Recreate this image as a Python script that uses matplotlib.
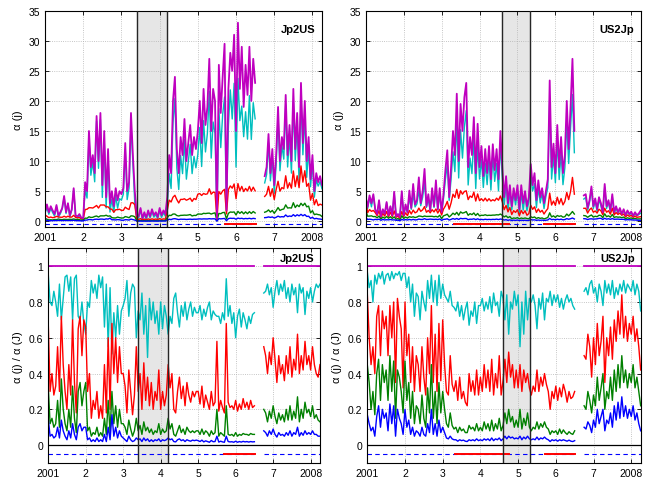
import numpy as np
import matplotlib.pyplot as plt

plt.rcParams['font.family'] = ['Liberation Sans', 'DejaVu Sans']

# sampling times in years; no data between mid 2006 and autumn 2006
t_a = np.round(np.arange(2001.0, 2006.501, 0.05), 2)
t_b = np.round(np.arange(2006.75, 2008.251, 0.05), 2)

# ---------------- Jp2US ----------------
jp_total_a = [1.5, 2.8, 1.5, 2.5, 1.8, 1.2, 2.7, 1.0, 1.5, 2.2, 4.2, 1.5, 3.0, 1.0, 2.0, 5.5, 1.0, 0.8, 1.2, 0.6,
              0.5, 6.5, 5.0, 15.0, 9.0, 11.0, 8.0, 17.5, 10.0, 18.0, 6.0, 15.0, 4.0, 12.0, 3.0, 5.0, 2.5, 5.5, 3.5, 5.0,
              4.5, 5.5, 13.0, 5.0, 6.5, 18.0, 11.0, 5.0,
              1.0, 0.8, 2.2, 0.5, 1.5, 0.6, 1.8, 0.8, 2.0, 1.0, 1.5, 0.7, 2.2, 1.0, 1.8, 1.2,
              4.0, 11.0, 8.0, 20.0, 24.0, 12.0, 8.0, 14.0, 11.0, 17.0, 10.0, 13.0, 16.0, 11.0, 14.0, 12.0,
              15.0, 20.0, 13.0, 22.0, 16.0, 19.0, 27.0, 15.0, 22.0, 20.0,
              0.4, 26.0, 18.0, 24.0, 29.5, 1.8,
              22.0, 28.0, 25.0, 31.0, 15.0, 33.0, 22.0, 29.0, 19.0, 26.0, 21.0, 29.0, 20.0, 27.0, 23.0]
jp_total_b = [7.5, 9.0, 14.5, 8.0, 12.0, 6.0, 11.0, 19.0, 10.0, 14.0, 12.0, 21.0, 11.0, 16.0, 10.0, 22.0,
              12.0, 18.0, 9.0, 23.0, 13.0, 20.0, 10.0, 14.0, 7.0, 11.0, 5.0, 8.0, 6.5, 7.5, 6.0]

jp_cyan_a = [0.96, 0.80, 0.78, 0.86, 0.80, 0.72, 0.90, 0.70, 0.82, 0.94, 0.95, 0.86, 0.94, 0.70, 0.93, 0.95, 0.72, 0.70, 0.80, 0.68,
             0.62, 0.80, 0.77, 0.92, 0.85, 0.90, 0.82, 0.95, 0.88, 0.94, 0.66, 0.90, 0.55, 0.88, 0.51, 0.74, 0.60, 0.78, 0.62, 0.75,
             0.78, 0.82, 0.92, 0.72, 0.85, 0.90, 0.88, 0.60,
             0.75, 0.70, 0.85, 0.62, 0.78, 0.49, 0.82, 0.70, 0.80, 0.68, 0.75, 0.62, 0.80, 0.65, 0.78, 0.72,
             0.62, 0.72, 0.68, 0.82, 0.85, 0.74, 0.66, 0.78, 0.72, 0.80, 0.70, 0.76, 0.80, 0.72, 0.77, 0.74,
             0.74, 0.78, 0.70, 0.76, 0.72, 0.77, 0.80, 0.70, 0.75, 0.73,
             0.72, 0.72, 0.68, 0.74, 0.70, 0.93,
             0.72, 0.78, 0.68, 0.74, 0.60, 0.72, 0.76, 0.66, 0.74, 0.70, 0.65, 0.72, 0.68, 0.73, 0.74]
jp_cyan_b = [0.85, 0.86, 0.90, 0.84, 0.88, 0.77, 0.86, 0.92, 0.84, 0.90, 0.86, 0.92, 0.82, 0.88, 0.80, 0.90,
             0.84, 0.88, 0.74, 0.90, 0.85, 0.88, 0.73, 0.86, 0.82, 0.88, 0.80, 0.86, 0.90, 0.88, 0.90]

jp_red_a = [0.69, 0.30, 0.40, 0.28, 0.33, 0.55, 0.30, 0.72, 0.45, 0.30, 0.20, 0.45, 0.28, 0.70, 0.35, 0.18, 0.65, 0.72, 0.50, 0.70,
            0.66, 0.30, 0.40, 0.15, 0.25, 0.20, 0.30, 0.15, 0.22, 0.15, 0.45, 0.18, 0.60, 0.20, 0.68, 0.40, 0.60, 0.35, 0.55, 0.40,
            0.40, 0.33, 0.18, 0.42, 0.30, 0.17, 0.28, 0.55,
            0.30, 0.40, 0.20, 0.46, 0.25, 0.38, 0.22, 0.35, 0.20, 0.30, 0.25, 0.42, 0.20, 0.30, 0.22, 0.28,
            0.45, 0.32, 0.40, 0.20, 0.18, 0.30, 0.38, 0.26, 0.33, 0.22, 0.35, 0.28, 0.24, 0.30, 0.27, 0.30,
            0.30, 0.23, 0.33, 0.21, 0.28, 0.24, 0.20, 0.30, 0.22, 0.24,
            0.58, 0.19, 0.25, 0.21, 0.18, 0.68,
            0.24, 0.21, 0.22, 0.20, 0.25, 0.19, 0.23, 0.20, 0.26, 0.21, 0.24, 0.20, 0.25, 0.21, 0.22]
jp_red_b = [0.55, 0.50, 0.40, 0.52, 0.45, 0.60, 0.48, 0.35, 0.50, 0.40, 0.45, 0.36, 0.50, 0.40, 0.55, 0.38,
            0.48, 0.42, 0.62, 0.40, 0.50, 0.42, 0.58, 0.45, 0.50, 0.42, 0.55, 0.45, 0.40, 0.38, 0.45]

jp_green_a = [0.33, 0.12, 0.15, 0.10, 0.12, 0.25, 0.10, 0.37, 0.20, 0.12, 0.08, 0.20, 0.10, 0.33, 0.15, 0.07, 0.30, 0.35, 0.22, 0.30,
              0.35, 0.08, 0.10, 0.05, 0.07, 0.06, 0.10, 0.05, 0.07, 0.05, 0.15, 0.06, 0.25, 0.07, 0.30, 0.12, 0.22, 0.10, 0.20, 0.12,
              0.12, 0.10, 0.06, 0.14, 0.09, 0.05, 0.08, 0.15,
              0.08, 0.11, 0.06, 0.13, 0.08, 0.10, 0.07, 0.09, 0.06, 0.08, 0.07, 0.12, 0.06, 0.09, 0.07, 0.08,
              0.15, 0.09, 0.12, 0.06, 0.05, 0.08, 0.11, 0.07, 0.09, 0.06, 0.10, 0.08, 0.07, 0.08, 0.07, 0.08,
              0.08, 0.06, 0.09, 0.06, 0.08, 0.07, 0.05, 0.08, 0.06, 0.07,
              0.20, 0.05, 0.07, 0.06, 0.05, 0.22,
              0.06, 0.055, 0.06, 0.05, 0.07, 0.05, 0.06, 0.055, 0.065, 0.06, 0.06, 0.055, 0.065, 0.06, 0.06]
jp_green_b = [0.20, 0.18, 0.13, 0.19, 0.15, 0.22, 0.16, 0.12, 0.18, 0.14, 0.17, 0.13, 0.20, 0.14, 0.22, 0.14,
              0.19, 0.15, 0.27, 0.13, 0.20, 0.15, 0.24, 0.18, 0.20, 0.16, 0.22, 0.15, 0.17, 0.14, 0.13]

jp_blue_a = [0.15, 0.05, 0.06, 0.04, 0.05, 0.10, 0.04, 0.14, 0.08, 0.05, 0.03, 0.08, 0.04, 0.12, 0.06, 0.03, 0.10, 0.12, 0.08, 0.10,
             0.10, 0.03, 0.04, 0.02, 0.03, 0.02, 0.04, 0.02, 0.03, 0.02, 0.06, 0.02, 0.10, 0.03, 0.17, 0.05, 0.10, 0.04, 0.08, 0.05,
             0.04, 0.03, 0.02, 0.05, 0.03, 0.02, 0.025, 0.04,
             0.03, 0.035, 0.02, 0.04, 0.025, 0.035, 0.02, 0.03, 0.02, 0.03, 0.025, 0.035, 0.02, 0.03, 0.025, 0.03,
             0.04, 0.03, 0.035, 0.02, 0.018, 0.03, 0.035, 0.025, 0.03, 0.02, 0.03, 0.025, 0.022, 0.028, 0.025, 0.028,
             0.025, 0.02, 0.028, 0.018, 0.024, 0.02, 0.016, 0.026, 0.019, 0.02,
             0.05, 0.017, 0.022, 0.018, 0.016, 0.05,
             0.02, 0.018, 0.019, 0.016, 0.022, 0.016, 0.02, 0.017, 0.021, 0.018, 0.02, 0.017, 0.02, 0.018, 0.019]
jp_blue_b = [0.08, 0.07, 0.05, 0.08, 0.06, 0.09, 0.06, 0.045, 0.07, 0.055, 0.06, 0.05, 0.07, 0.055, 0.08, 0.05,
             0.07, 0.06, 0.10, 0.05, 0.07, 0.055, 0.08, 0.06, 0.07, 0.06, 0.08, 0.06, 0.06, 0.05, 0.05]

# ---------------- US2Jp ----------------
us_total_a = [4.0, 2.4, 4.3, 3.0, 4.5, 2.0, 1.2, 3.5, 0.8, 2.0, 1.2, 3.2, 1.0, 2.5, 1.0, 4.9, 0.8, 1.2, 0.7, 5.0,
              1.0, 2.8, 1.5, 5.1, 2.2, 6.2, 2.8, 3.5, 7.3, 3.0, 5.0, 8.7, 2.5, 4.5, 1.8, 5.5, 2.5, 6.8, 2.0, 5.5,
              1.5, 4.5, 8.5, 11.8, 4.0, 9.0, 15.0, 11.0, 21.2, 10.0, 19.5, 15.0, 20.6, 23.0, 9.0, 14.0, 11.0, 17.3, 8.0, 16.2,
              9.0, 12.5, 7.5, 12.0, 8.0, 12.5, 7.0, 12.8, 8.5, 12.0, 7.0, 15.0, 9.0, 4.0, 7.5, 3.0, 6.0, 2.5, 5.5, 3.5,
              6.0, 2.0, 6.0, 3.0, 5.0, 2.5, 4.0, 9.5, 6.0, 8.0, 3.5, 6.8, 4.0, 5.5, 3.0, 5.0, 7.0, 23.4, 9.0, 12.9,
              8.0, 16.0, 9.0, 14.0, 8.0, 11.0, 20.0, 12.0, 19.0, 27.0, 15.0]
us_total_b = [4.3, 4.5, 2.2, 3.5, 5.8, 2.5, 3.8, 2.0, 4.0, 3.0, 1.5, 6.2, 2.5, 3.5, 1.8, 4.5,
              1.5, 2.5, 1.5, 2.2, 1.2, 2.0, 1.0, 1.8, 1.2, 1.6, 0.9, 1.5, 1.0, 1.3, 1.8]

us_cyan_a = [0.97, 0.88, 0.92, 0.80, 0.95, 0.90, 0.96, 0.93, 0.97, 0.90, 0.95, 0.96, 0.92, 0.97, 0.93, 0.96, 0.95, 0.97, 0.92, 0.96,
             0.96, 0.88, 0.94, 0.80, 0.90, 0.72, 0.85, 0.83, 0.70, 0.86, 0.80, 0.75, 0.92, 0.82, 0.95, 0.80, 0.92, 0.78, 0.95, 0.82,
             0.90, 0.84, 0.82, 0.80, 0.86, 0.78, 0.77, 0.75, 0.80, 0.72, 0.78, 0.70, 0.76, 0.80, 0.67, 0.75, 0.72, 0.80, 0.68, 0.78,
             0.78, 0.82, 0.75, 0.80, 0.76, 0.83, 0.74, 0.85, 0.78, 0.80, 0.72, 0.86, 0.82, 0.70, 0.84, 0.62, 0.80, 0.76, 0.86, 0.78,
             0.84, 0.55, 0.80, 0.62, 0.86, 0.70, 0.82, 0.80, 0.84, 0.78, 0.65, 0.82, 0.76, 0.85, 0.70, 0.82, 0.80, 0.86, 0.78, 0.84,
             0.80, 0.84, 0.77, 0.82, 0.76, 0.81, 0.84, 0.80, 0.82, 0.78, 0.76]
us_cyan_b = [0.86, 0.88, 0.84, 0.90, 0.92, 0.85, 0.88, 0.80, 0.90, 0.86, 0.78, 0.92, 0.85, 0.90, 0.84, 0.92,
             0.82, 0.88, 0.84, 0.90, 0.86, 0.92, 0.85, 0.90, 0.88, 0.86, 0.92, 0.84, 0.90, 0.86, 0.75]

us_red_a = [0.85, 0.60, 0.45, 0.55, 0.40, 0.72, 0.78, 0.50, 0.75, 0.65, 0.72, 0.50, 0.78, 0.60, 0.80, 0.35, 0.82, 0.72, 0.65, 0.32,
            0.80, 0.50, 0.62, 0.35, 0.55, 0.30, 0.50, 0.45, 0.30, 0.55, 0.38, 0.28, 0.60, 0.40, 0.78, 0.35, 0.62, 0.30, 0.68, 0.36,
            0.70, 0.45, 0.30, 0.28, 0.50, 0.34, 0.30, 0.36, 0.25, 0.38, 0.26, 0.30, 0.24, 0.22, 0.40, 0.30, 0.36, 0.28, 0.42, 0.28,
            0.38, 0.30, 0.45, 0.32, 0.42, 0.30, 0.48, 0.28, 0.40, 0.32, 0.50, 0.28, 0.36, 0.48, 0.35, 0.52, 0.38, 0.45, 0.32, 0.42,
            0.32, 0.45, 0.30, 0.42, 0.35, 0.40, 0.32, 0.28, 0.33, 0.30, 0.42, 0.30, 0.38, 0.33, 0.40, 0.34, 0.30, 0.20, 0.30, 0.26,
            0.33, 0.25, 0.32, 0.27, 0.34, 0.30, 0.24, 0.30, 0.26, 0.27, 0.30]
us_red_b = [0.50, 0.48, 0.62, 0.55, 0.38, 0.60, 0.45, 0.68, 0.50, 0.58, 0.72, 0.35, 0.60, 0.50, 0.66, 0.48,
            0.70, 0.58, 0.75, 0.62, 0.84, 0.60, 0.72, 0.58, 0.68, 0.62, 0.72, 0.58, 0.65, 0.55, 0.42]

us_green_a = [0.45, 0.35, 0.20, 0.30, 0.17, 0.40, 0.48, 0.25, 0.45, 0.35, 0.42, 0.25, 0.50, 0.30, 0.47, 0.15, 0.42, 0.38, 0.30, 0.18,
              0.47, 0.25, 0.35, 0.15, 0.30, 0.12, 0.22, 0.20, 0.12, 0.28, 0.15, 0.10, 0.32, 0.18, 0.45, 0.15, 0.30, 0.12, 0.35, 0.18,
              0.30, 0.20, 0.12, 0.10, 0.18, 0.11, 0.09, 0.10, 0.07, 0.10, 0.08, 0.09, 0.07, 0.07, 0.11, 0.09, 0.10, 0.08, 0.12, 0.08,
              0.10, 0.08, 0.13, 0.09, 0.12, 0.08, 0.14, 0.08, 0.12, 0.09, 0.15, 0.08, 0.11, 0.18, 0.12, 0.20, 0.13, 0.16, 0.10, 0.14,
              0.10, 0.20, 0.09, 0.15, 0.11, 0.18, 0.10, 0.08, 0.10, 0.09, 0.13, 0.09, 0.12, 0.10, 0.13, 0.10, 0.09, 0.06, 0.08, 0.07,
              0.08, 0.06, 0.09, 0.065, 0.085, 0.07, 0.06, 0.075, 0.065, 0.06, 0.08]
us_green_b = [0.22, 0.20, 0.30, 0.25, 0.18, 0.28, 0.22, 0.38, 0.25, 0.32, 0.40, 0.20, 0.30, 0.26, 0.38, 0.25,
              0.42, 0.30, 0.45, 0.32, 0.50, 0.35, 0.42, 0.32, 0.40, 0.35, 0.45, 0.32, 0.38, 0.30, 0.22]

us_blue_a = [0.17, 0.12, 0.08, 0.10, 0.05, 0.16, 0.22, 0.10, 0.20, 0.15, 0.18, 0.08, 0.23, 0.12, 0.22, 0.05, 0.20, 0.15, 0.12, 0.06,
             0.20, 0.10, 0.14, 0.06, 0.10, 0.05, 0.08, 0.07, 0.05, 0.10, 0.06, 0.05, 0.12, 0.07, 0.20, 0.06, 0.12, 0.05, 0.14, 0.07,
             0.10, 0.07, 0.04, 0.035, 0.05, 0.035, 0.03, 0.03, 0.022, 0.03, 0.025, 0.028, 0.022, 0.02, 0.03, 0.025, 0.03, 0.024, 0.035, 0.025,
             0.03, 0.025, 0.035, 0.028, 0.035, 0.025, 0.04, 0.025, 0.035, 0.03, 0.04, 0.025, 0.035, 0.05, 0.035, 0.05, 0.04, 0.045, 0.035, 0.04,
             0.035, 0.05, 0.03, 0.045, 0.035, 0.05, 0.035, 0.03, 0.035, 0.03, 0.045, 0.03, 0.04, 0.035, 0.045, 0.035, 0.03, 0.02, 0.03, 0.025,
             0.03, 0.022, 0.03, 0.025, 0.03, 0.026, 0.022, 0.028, 0.022, 0.02, 0.025]
us_blue_b = [0.10, 0.09, 0.13, 0.11, 0.07, 0.14, 0.10, 0.20, 0.12, 0.16, 0.20, 0.08, 0.14, 0.12, 0.18, 0.10,
             0.22, 0.14, 0.24, 0.15, 0.27, 0.16, 0.22, 0.15, 0.20, 0.16, 0.22, 0.14, 0.18, 0.12, 0.08]

# shaded periods and red flag periods
jp_shade = (2003.40, 2004.20)
us_shade = (2004.59, 2005.32)
jp_flags = [(2005.70, 2006.52)]
us_flags = [(2003.33, 2004.77), (2005.71, 2006.52)]

colors = {'c': '#00bfbf', 'r': '#ff0000', 'g': '#008000', 'b': '#0000ff', 'm': '#bf00bf'}


def series(a, b):
    if len(a) != len(t_a) or len(b) != len(t_b):
        raise ValueError(f'length mismatch: {len(a)}/{len(t_a)}, {len(b)}/{len(t_b)}')
    return np.r_[np.asarray(a, float), np.nan, np.asarray(b, float)]


t = np.r_[t_a, np.nan, t_b]


def style(ax, top):
    ax.set_xlim(2001, 2008.25)
    ax.set_xticks(range(2001, 2009))
    ax.set_xticklabels(['2001', '2', '3', '4', '5', '6', '7', '2008'])
    if top:
        ax.set_ylim(-1, 35)
        ax.set_yticks(range(0, 36, 5))
        ax.set_ylabel('α (j)', fontsize=8)
    else:
        ax.set_ylim(-0.1, 1.1)
        ax.set_yticks([0, 0.2, 0.4, 0.6, 0.8, 1])
        ax.set_yticklabels(['0', '0.2', '0.4', '0.6', '0.8', '1'])
        ax.set_ylabel('α (j) / α (J)', fontsize=8)
    ax.set_axisbelow(True)
    ax.grid(True, linestyle=':', color='0.7', lw=0.6)
    ax.tick_params(direction='in', top=True, right=True, labelsize=7.5, length=3, width=0.6)
    for s in ax.spines.values():
        s.set_linewidth(0.8)


def draw(ax_top, ax_bot, label, total, ratios, shade, flags):
    for ax, top in ((ax_top, True), (ax_bot, False)):
        ax.axvspan(shade[0], shade[1], color='0.9', zorder=0)
        for x in shade:
            ax.axvline(x, color='0.15', lw=1, zorder=3)
        base = -0.5 if top else -0.05
        if not top:
            ax.axhline(0, color='k', lw=0.9)
        ax.plot(t, np.full_like(t, base), '--', color=colors['b'], lw=0.8, dashes=(4, 3))
        for f0, f1 in flags:
            ax.plot([f0, f1], [base, base], color=colors['r'], lw=1.4)
        for key, r in ratios:
            ax.plot(t, r * total if top else r, color=colors[key], lw=1.0)
        ax.plot(t, total if top else total / total, color=colors['m'], lw=1.3)
        style(ax, top)
        ax.text(0.975 if top else 0.98, 0.915 if top else 0.955, label, transform=ax.transAxes,
                ha='right', va='center', fontsize=8, fontweight='bold')


fig = plt.figure(figsize=(6.65, 4.81), dpi=100)
ax_tl = fig.add_axes([0.0677, 0.5254, 0.4165, 0.4503])
ax_tr = fig.add_axes([0.5500, 0.5254, 0.4135, 0.4503])
ax_bl = fig.add_axes([0.0725, 0.0353, 0.4087, 0.4464])
ax_br = fig.add_axes([0.5523, 0.0353, 0.4111, 0.4464])

jp_total = series(jp_total_a, jp_total_b)
jp_ratios = [('c', series(jp_cyan_a, jp_cyan_b)), ('r', series(jp_red_a, jp_red_b)),
             ('g', series(jp_green_a, jp_green_b)), ('b', series(jp_blue_a, jp_blue_b))]
us_total = series(us_total_a, us_total_b)
us_ratios = [('c', series(us_cyan_a, us_cyan_b)), ('r', series(us_red_a, us_red_b)),
             ('g', series(us_green_a, us_green_b)), ('b', series(us_blue_a, us_blue_b))]

draw(ax_tl, ax_bl, 'Jp2US', jp_total, jp_ratios, jp_shade, jp_flags)
draw(ax_tr, ax_br, 'US2Jp', us_total, us_ratios, us_shade, us_flags)

fig.savefig('out.png', dpi=100)
